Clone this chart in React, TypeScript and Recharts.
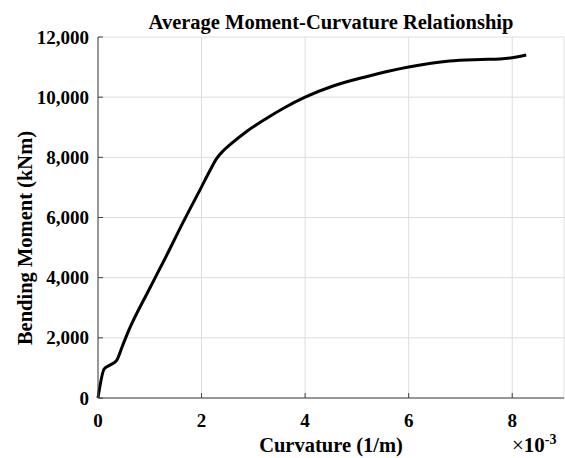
import { LineChart, Line, XAxis, YAxis, CartesianGrid } from "recharts";

const curvature = [0, 0.12, 0.25, 0.36, 0.47, 0.6, 0.97, 1.29, 1.64, 2.0, 2.15, 2.29, 2.42, 2.55, 2.87, 3.22, 3.6, 4.0, 4.54, 5.18, 6.0, 6.79, 7.4, 7.76, 8.0, 8.27];
const moment = [0, 970, 1110, 1250, 1720, 2270, 3550, 4620, 5830, 7020, 7520, 7960, 8220, 8420, 8860, 9260, 9650, 10000, 10370, 10680, 11000, 11200, 11250, 11270, 11310, 11400];
const xTicks = [0, 2, 4, 6, 8];
const yTicks = [0, 2000, 4000, 6000, 8000, 10000, 12000];

const data = curvature.map((c, i) => ({ c, m: moment[i] }));

const font = '"Liberation Serif", "Times New Roman", serif';
const axisColor = "#404040";

function BottomTick(props: any) {
  const { x, y, payload } = props;
  return (
    <g>
      <line x1={x} x2={x} y1={y} y2={y - 5} stroke={axisColor} />
      <text x={x} y={y + 29} textAnchor="middle" style={{ fontFamily: font, fontWeight: "bold", fontSize: 19 }} fill="#000">
        {payload.value}
      </text>
    </g>
  );
}

function TopTick(props: any) {
  const { x, y } = props;
  return <line x1={x} x2={x} y1={y} y2={y + 5} stroke={axisColor} />;
}

function LeftTick(props: any) {
  const { x, y, payload } = props;
  return (
    <g>
      <line x1={x} x2={x + 5} y1={y} y2={y} stroke={axisColor} />
      <text x={x - 9} y={y} dy="0.35em" textAnchor="end" style={{ fontFamily: font, fontWeight: "bold", fontSize: 19 }} fill="#000">
        {Number(payload.value).toLocaleString("en-US")}
      </text>
    </g>
  );
}

function RightTick(props: any) {
  const { x, y } = props;
  return <line x1={x} x2={x - 5} y1={y} y2={y} stroke={axisColor} />;
}

export default function App() {
  const textStyle: React.CSSProperties = {
    position: "absolute",
    fontFamily: font,
    fontWeight: "bold",
    whiteSpace: "nowrap",
    color: "#000",
    lineHeight: 1,
  };
  return (
    <div style={{ position: "relative", width: 565, height: 458, overflow: "hidden", background: "#fff" }}>
      <style>{"body{margin:0;overflow:hidden}"}</style>
      <LineChart width={565} height={458} data={data} margin={{ top: 37, right: 1, bottom: 0, left: 0 }}>
        <CartesianGrid xAxisId="x" yAxisId="y" stroke="#dedede" vertical horizontal />
        <XAxis
          xAxisId="x"
          dataKey="c"
          type="number"
          domain={[0, 9]}
          ticks={xTicks}
          height={60}
          tickSize={0}
          tickMargin={0}
          tickLine={false}
          stroke={axisColor}
          tick={BottomTick}
        />
        <XAxis
          xAxisId="top"
          orientation="top"
          dataKey="c"
          type="number"
          domain={[0, 9]}
          ticks={xTicks}
          height={0}
          tickSize={0}
          tickMargin={0}
          tickLine={false}
          stroke={axisColor}
          tick={TopTick}
        />
        <YAxis
          yAxisId="y"
          type="number"
          domain={[0, 12000]}
          ticks={yTicks}
          width={98}
          tickSize={0}
          tickMargin={0}
          tickLine={false}
          stroke={axisColor}
          tick={LeftTick}
        />
        <YAxis
          yAxisId="right"
          orientation="right"
          type="number"
          domain={[0, 12000]}
          ticks={yTicks}
          width={0}
          tickSize={0}
          tickMargin={0}
          tickLine={false}
          stroke={axisColor}
          tick={RightTick}
        />
        <Line
          xAxisId="x"
          yAxisId="y"
          dataKey="m"
          type="monotone"
          stroke="#000"
          strokeWidth={3}
          dot={false}
          isAnimationActive={false}
        />
      </LineChart>
      <div style={{ ...textStyle, left: 331, top: 22, transform: "translate(-50%, -50%)", fontSize: 20.5 }}>
        Average Moment-Curvature Relationship
      </div>
      <div style={{ ...textStyle, left: 331, top: 445, transform: "translate(-50%, -50%)", fontSize: 20.5 }}>
        Curvature (1/m)
      </div>
      <div style={{ ...textStyle, left: 25, top: 238, transform: "translate(-50%, -50%) rotate(-90deg)", fontSize: 20.5 }}>
        Bending Moment (kNm)
      </div>
      <div style={{ ...textStyle, left: 512, top: 429, fontSize: 21, fontWeight: "normal", paddingTop: 4 }}>
        ×<b>10</b><sup style={{ fontSize: 14, fontWeight: "bold", verticalAlign: "8px", lineHeight: 1 }}>-3</sup>
      </div>
    </div>
  );
}
